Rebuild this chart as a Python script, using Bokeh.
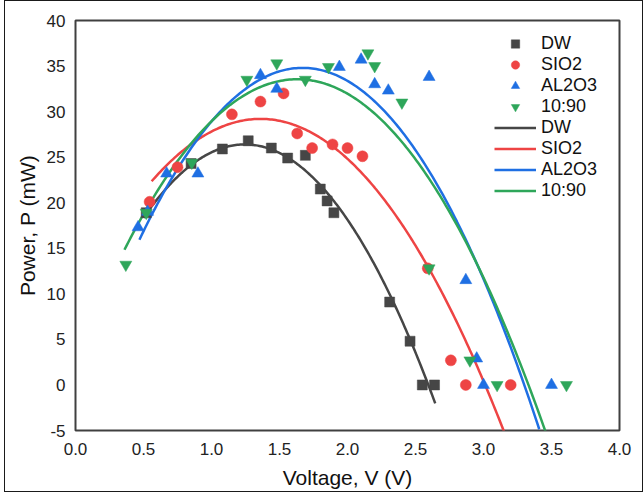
import numpy as np
from bokeh.plotting import figure
from bokeh.models import Legend, LegendItem, FixedTicker, NumeralTickFormatter, Range1d
from bokeh.embed import file_html
from bokeh.resources import INLINE

# ---- measured data ----
series_names = ["DW", "SIO2", "AL2O3", "10:90"]

dw_v = [0.52, 0.85, 1.08, 1.27, 1.44, 1.56, 1.69, 1.80, 1.85, 1.90, 2.31, 2.46, 2.55, 2.64]
dw_p = [18.9, 24.3, 25.9, 26.8, 26.0, 24.9, 25.2, 21.5, 20.2, 18.9, 9.1, 4.8, 0.0, 0.0]

sio2_v = [0.545, 0.75, 1.15, 1.36, 1.53, 1.63, 1.74, 1.89, 2.00, 2.11, 2.59, 2.76, 2.87, 3.20]
sio2_p = [20.1, 23.9, 29.7, 31.1, 32.0, 27.6, 26.0, 26.4, 26.0, 25.1, 12.8, 2.7, 0.0, 0.0]

al2o3_v = [0.46, 0.53, 0.67, 0.90, 1.36, 1.48, 1.94, 2.10, 2.20, 2.30, 2.60, 2.87, 2.95, 3.00, 3.50]
al2o3_p = [17.3, 19.0, 23.2, 23.2, 34.0, 32.5, 34.9, 35.7, 33.0, 32.3, 33.8, 11.5, 2.9, 0.0, 0.0]

mix_v = [0.37, 0.52, 0.855, 1.26, 1.48, 1.69, 1.86, 2.15, 2.20, 2.40, 2.60, 2.90, 3.10, 3.61]
mix_p = [13.2, 18.9, 24.4, 33.5, 35.3, 33.5, 34.9, 36.4, 35.0, 31.0, 12.8, 2.7, 0.0, 0.0]

# quadratic trend lines: peak voltage, peak power, curvature, start, end
trend_peak_v = [1.245, 1.36, 1.67, 1.63]
trend_peak_p = [26.4, 29.2, 34.8, 33.55]
trend_curv = [14.5, 10.7, 13.1, 11.6]
trend_start = [0.50, 0.56, 0.47, 0.36]
trend_end = [2.645, 3.15, 3.41, 3.455]

x_ticks = [0.0, 0.5, 1.0, 1.5, 2.0, 2.5, 3.0, 3.5, 4.0]
y_ticks = [-5, 0, 5, 10, 15, 20, 25, 30, 35, 40]

colors = ["#464646", "#ee4444", "#1f6fe3", "#2ea65a"]
markers = ["square", "circle", "triangle", "inverted_triangle"]
marker_sizes = [10, 11, 12, 12]

FONT = "Liberation Sans"

p = figure(
    frame_width=544, frame_height=410,
    min_border_left=70, min_border_right=23, min_border_top=19, min_border_bottom=61,
    x_range=Range1d(0, 4), y_range=Range1d(-5, 40),
    output_backend="svg", toolbar_location=None,
    styles={"border": "1.5px solid #1a1a1a", "margin-left": "4px"},
)
p.xgrid.visible = False
p.ygrid.visible = False
p.outline_line_color = "#404040"
p.outline_line_width = 2
p.background_fill_color = "white"
p.border_fill_color = "white"

for ax in (p.xaxis[0], p.yaxis[0]):
    ax.axis_line_color = None
    ax.major_tick_line_color = None
    ax.minor_tick_line_color = None
    ax.major_label_text_font = FONT
    ax.major_label_text_font_size = "17px"
    ax.major_label_text_color = "#222222"
    ax.axis_label_text_font = FONT
    ax.axis_label_text_font_size = "21px"
    ax.axis_label_text_font_style = "normal"
    ax.axis_label_text_color = "#111111"

p.xaxis.ticker = FixedTicker(ticks=x_ticks)
p.yaxis.ticker = FixedTicker(ticks=y_ticks)
p.xaxis.formatter = NumeralTickFormatter(format="0.0")
p.yaxis.formatter = NumeralTickFormatter(format="0")
p.xaxis.axis_label = "Voltage, V (V)"
p.yaxis.axis_label = "Power, P (mW)"
p.xaxis.major_label_standoff = 6
p.yaxis.major_label_standoff = 4
p.xaxis.axis_label_standoff = 8
p.yaxis.axis_label_standoff = 5

data_v = [dw_v, sio2_v, al2o3_v, mix_v]
data_p = [dw_p, sio2_p, al2o3_p, mix_p]

marker_items = []
line_items = []
for i, name in enumerate(series_names):
    vv = np.linspace(trend_start[i], trend_end[i], 200)
    pp = trend_peak_p[i] - trend_curv[i] * (vv - trend_peak_v[i]) ** 2
    lr = p.line(vv, pp, line_color=colors[i], line_width=2.5)
    line_items.append(LegendItem(label=name, renderers=[lr]))

for i, name in enumerate(series_names):
    sr = p.scatter(data_v[i], data_p[i], marker=markers[i], size=marker_sizes[i],
                   fill_color=colors[i], line_color=colors[i], line_width=0.5)
    marker_items.append(LegendItem(label=name, renderers=[sr]))

legend = Legend(items=marker_items + line_items, location=(419, 229))
legend.background_fill_alpha = 0
legend.border_line_color = None
legend.padding = 0
legend.margin = 0
legend.spacing = 0
legend.glyph_width = 42
legend.glyph_height = 21
legend.label_height = 21
legend.label_standoff = 5
legend.label_text_font = FONT
legend.label_text_font_size = "18px"
legend.label_text_color = "#111111"
p.add_layout(legend, "center")

open("out.html", "w").write(file_html(p, INLINE))
